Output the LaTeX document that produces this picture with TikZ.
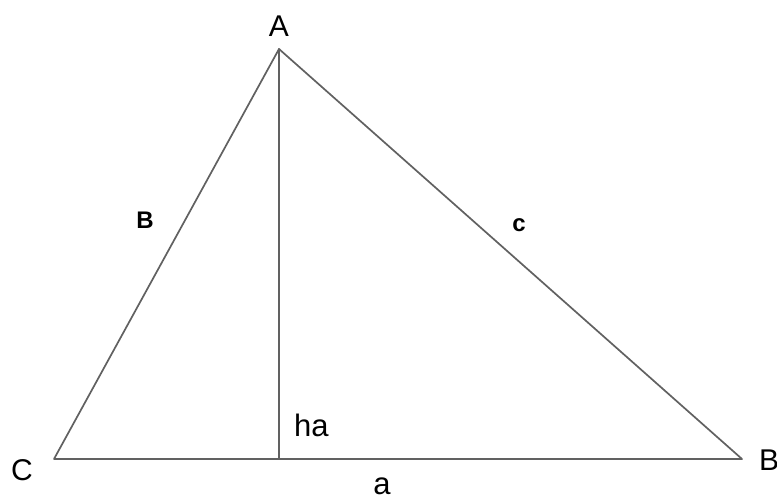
\documentclass[tikz,border=0pt]{standalone}
\usepackage{fontspec}
\setmainfont{Liberation Sans}
\begin{document}
\begin{tikzpicture}[x=1pt,y=-1pt,
  edge/.style={draw=black!62, line width=1.7pt, line cap=round, line join=round},
  vlabel/.style={inner sep=0pt, font=\fontsize{30}{30}\selectfont},
  slabel/.style={inner sep=0pt, font=\fontsize{24}{24}\selectfont\bfseries},
  hlabel/.style={inner sep=0pt, font=\fontsize{31}{31}\selectfont}]
\useasboundingbox[fill=white] (0,0) rectangle (777,500);
\coordinate (A) at (279,49);
\coordinate (C) at (54,459);
\coordinate (B) at (742,459);
\coordinate (H) at (279,459);
\draw[edge] (C) -- (A) -- (B) -- cycle;
\draw[edge] (A) -- (H);
\node[vlabel] (lA) at (279,26) {A};
\node[vlabel] (lC) at (22,470) {C};
\node[vlabel, anchor=west] (lB) at (759,460) {B};
\node[slabel] (lb) at (145,220) {B};
\node[slabel] (lc) at (519,225) {c};
\node[hlabel, anchor=base west] (lha) at (294,436) {ha};
\node[hlabel, anchor=base] (la) at (382,494) {a};
\end{tikzpicture}
\end{document}
